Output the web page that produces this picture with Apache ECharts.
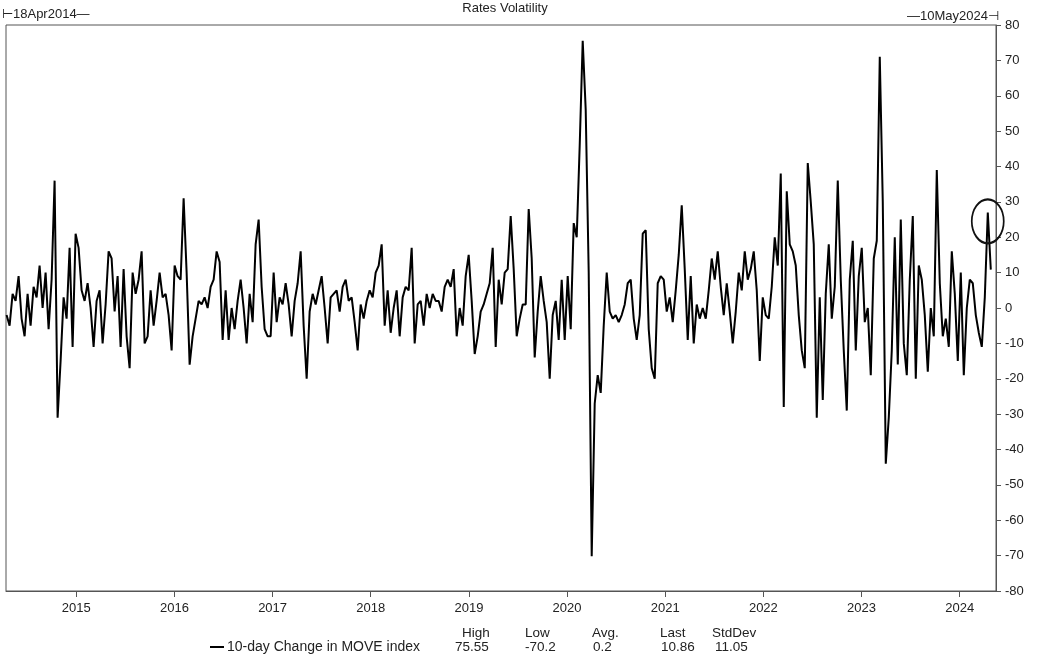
<!DOCTYPE html>
<html><head><meta charset="utf-8">
<script src="https://cdn.jsdelivr.net/npm/echarts@6/dist/echarts.min.js"></script>
<style>html,body{margin:0;padding:0;background:#fff}#c{width:1039px;height:657px}</style>
</head><body><div id="c"></div>
<script>
// ---- data ----
const chartTitle = 'Rates Volatility';
const startLabel = '18Apr2014';
const endLabel = '10May2024';
const seriesName = '10-day Change in MOVE index';
const yearTicks = [2015, 2016, 2017, 2018, 2019, 2020, 2021, 2022, 2023, 2024];
const yMin = -80, yMax = 80, yStep = 10;
const xMin = 2014.284, xMax = 2024.37;
const statHeaders = ['High', 'Low', 'Avg.', 'Last', 'StdDev'];
const statValues = ['75.55', '-70.2', '0.2', '10.86', '11.05'];
// sampling: first observation (fractional year) and spacing between observations
const firstYear = 2014.29;
const stepYears = 0.03057;
// readings (10-day change), in order
const seg1 = [-2, -5, 4, 2, 9, -3, -8, 4, -5, 6, 3, 12, 0, 10, -6, 8, 36, -31, -15, 3, -3, 17, -11, 21, 17, 5, 2, 7, 0, -11, 2, 5, -10, 1, 16, 14, -1, 9, -11, 11, -8, -17, 10];
const seg2 = [4, 8, 16, -10, -8, 5, -5, 2, 10, 3, 4, -2, -12, 12, 9, 8, 31, 10, -16, -8, -3, 2, 1, 3, 0, 6, 8, 16, 13, -9, 5, -9, 0, -6, 2, 8, 0, -10, 4, -4, 18, 25];
const seg3 = [6, -6, -8, -8, 10, -4, 3, 1, 7, 1, -8, 2, 7, 16, -5, -20, -1, 4, 1, 5, 9, 0, -10, 3, 4, 5, -1, 6, 8, 2, 3, -4, -12, 1, -3, 2, 5, 3, 10, 12, 18, -5];
const seg4 = [5, -7, 0, 5, -8, 3, 6, 5, 17, -10, 1, 2, -5, 4, 0, 4, 2, 2, -1, 6, 8, 6, 11, -8, 0, -5, 9, 15, 2, -13, -8, -1, 1, 4, 7, 17, -11, 8, 1, 10, 11, 26];
const seg5 = [11, -8, -3, 1, 1, 28, 14, -14, -1, 9, 2, -4, -20, -2, 2, -9, 8, -9, 9, -6, 24, 20, 46, 75.55, 56, 10, -70.2, -27, -19, -24, -5, 10, -1, -3, -2, -4, -2, 1, 7, 8, -3];
const seg6 = [-9, -2, 21, 22, -6, -17, -20, 7, 9, 8, -1, 3, -4, 5, 15, 29, 11, -9, 9, -10, 1, -3, 0, -3, 5, 14, 8, 16, 6, -2, 7, -1, -10, -1, 10, 5, 16, 8, 11, 16, 5, -15];
const seg7 = [3, -2, -3, 6, 20, 12, 38, -28, 33, 18, 16, 12, -2, -12, -17, 41, 30, 18, -31, 3, -26, 4, 18, -3, 6, 36, 8, -12, -29, 8, 19, -12, 9, 17, -4, 0, -19, 14, 19, 71, 30];
const seg8 = [-44, -31, -12, 20, -16, 25, -10, -19, 8, 26, -20, 12, 8, -2, -18, 0, -8, 39, 7, -8, -3, -11, 16, 4, -15, 10, -19, 0, 8, 7, -2, -7, -11, 3, 27, 10.86];
const circleAt = [2024.286, 24.5];

// ---- chart ----
const values = [].concat(seg1, seg2, seg3, seg4, seg5, seg6, seg7, seg8);
const lineData = values.map((v, i) => [firstYear + i * stepYears, v]);

const FONT = "'Liberation Sans', Arial, sans-serif";
const TXT = '#222';
const LEG = '13.5px ' + FONT;
const chart = echarts.init(document.getElementById('c'), null, { renderer: 'canvas' });

const statHeaderX = [462, 525, 592, 660, 712];
const statValueX = [455, 525, 593, 661, 715];
const graphics = [
  { type: 'text', left: 2, top: 8, style: { text: '\u22A2' + startLabel + '\u2014', font: '13px ' + FONT, fill: TXT } },
  { type: 'text', right: 40, top: 10, style: { text: '\u2014' + endLabel + '\u22A3', font: '13px ' + FONT, fill: TXT } },
  { type: 'text', x: 505, y: 8, style: { text: chartTitle, font: '13px ' + FONT, fill: TXT, align: 'center', verticalAlign: 'middle' } },
  { type: 'line', shape: { x1: 210, y1: 647, x2: 224, y2: 647 }, style: { stroke: '#000', lineWidth: 2 } },
  { type: 'text', x: 227, y: 647, style: { text: seriesName, font: '14px ' + FONT, fill: TXT, verticalAlign: 'middle' } }
];
statHeaders.forEach((h, k) => graphics.push({ type: 'text', x: statHeaderX[k], y: 633, style: { text: h, font: LEG, fill: TXT, align: 'left', verticalAlign: 'middle' } }));
statValues.forEach((s, k) => graphics.push({ type: 'text', x: statValueX[k], y: 647, style: { text: s, font: LEG, fill: TXT, align: 'left', verticalAlign: 'middle' } }));

chart.setOption({
  backgroundColor: '#fff',
  animation: false,
  grid: { left: 6, right: 43, top: 25, bottom: 66, show: true, borderColor: '#555', borderWidth: 1, backgroundColor: '#fff' },
  xAxis: {
    type: 'value', min: xMin, max: xMax,
    axisLine: { show: true, onZero: false, lineStyle: { color: '#555' } },
    axisTick: { show: true, length: 6, inside: false, customValues: yearTicks, lineStyle: { color: '#555' } },
    axisLabel: { customValues: yearTicks, formatter: v => String(Math.round(v)), color: TXT, fontFamily: FONT, fontSize: 13, margin: 11 },
    splitLine: { show: false }
  },
  yAxis: {
    type: 'value', position: 'right', min: yMin, max: yMax, interval: yStep,
    axisLine: { show: true, lineStyle: { color: '#555' } },
    axisTick: { show: true, length: 5, inside: false, lineStyle: { color: '#555' } },
    axisLabel: { color: TXT, fontFamily: FONT, fontSize: 13, margin: 9 },
    splitLine: { show: false }
  },
  series: [{
    type: 'line', name: seriesName, data: lineData, showSymbol: false, symbol: 'none',
    lineStyle: { color: '#000', width: 2 }, clip: true,
    markPoint: {
      symbol: 'circle', symbolSize: [32, 44], silent: true,
      itemStyle: { color: 'rgba(0,0,0,0)', borderColor: '#111', borderWidth: 2 },
      label: { show: false },
      data: [{ coord: circleAt }]
    }
  }],
  graphic: graphics
});
</script></body></html>
